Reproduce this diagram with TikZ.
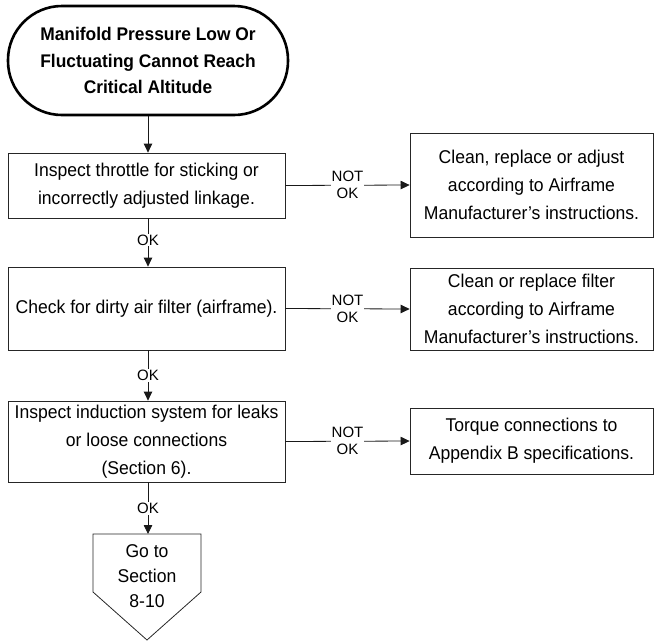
\documentclass[tikz,border=0pt]{standalone}
\usepackage{fontspec}
\setmainfont[FakeStretch=0.95]{Liberation Sans}
\newfontfamily\lblfont{Liberation Sans}
\usetikzlibrary{arrows.meta}
\begin{document}
\begin{tikzpicture}[x=1pt,y=-1pt,
  box/.style={draw=black!85,line width=0.8pt,align=center,inner sep=0pt,
    font=\fontsize{18.5}{28}\selectfont},
  term/.style={draw=black,line width=2.6pt,rounded corners=54pt,align=center,inner sep=0pt,
    font=\bfseries\fontsize{18.3}{26.5}\selectfont},
  conn/.style={draw=black!90,line width=0.8pt,-{Triangle[length=9pt,width=8.5pt]}},
  lbl/.style={fill=white,inner sep=1pt,align=center,font=\lblfont\fontsize{15}{17}\selectfont}
]
\useasboundingbox (0,0) rectangle (655,641);
\node[term,minimum width=280pt,minimum height=109pt] (t) at (148,60.5)
  {Manifold Pressure Low Or\\Fluctuating Cannot Reach\\Critical Altitude};
\node[box,minimum width=277pt,minimum height=65pt] (b1) at (146.5,185.5)
  {Inspect throttle for sticking or\\incorrectly adjusted linkage.};
\node[box,minimum width=243pt,minimum height=104pt] (r1) at (531.5,185)
  {Clean, replace or adjust\\according to Airframe\\Manufacturer’s instructions.};
\node[box,minimum width=277pt,minimum height=83pt] (b2) at (146.5,308.5)
  {Check for dirty air filter (airframe).};
\node[box,minimum width=243pt,minimum height=82pt] (r2) at (531.5,309)
  {Clean or replace filter\\according to Airframe\\Manufacturer’s instructions.};
\node[box,minimum width=277pt,minimum height=81pt] (b3) at (146.5,441.5)
  {Inspect induction system for leaks\\or loose connections\\(Section 6).};
\node[box,minimum width=243pt,minimum height=66pt] (r3) at (531.5,441)
  {Torque connections to\\Appendix B specifications.};
% off-page connector
\draw[draw=black!85,line width=0.8pt] (93,534) -- (201,534) -- (201,592) -- (147,640) -- (93,592) -- cycle;
\coordinate (ptop) at (147,534);
\node[align=center,inner sep=0pt,font=\fontsize{18.5}{25}\selectfont] (p) at (147,576) {Go to\\Section\\8-10};
% vertical connectors
\draw[conn] (t.south -| 148,0) -- (b1.north -| 148,0);
\draw[conn] (b1.south -| 148,0) -- node[lbl,pos=0.45] (ok1) {OK} (b2.north -| 148,0);
\draw[conn] (b2.south -| 148,0) -- node[lbl,pos=0.5] (ok2) {OK} (b3.north -| 148,0);
\draw[conn] (b3.south -| 148,0) -- node[lbl,pos=0.5] (ok3) {OK} (ptop -| 148,0);
% horizontal connectors
\draw[conn] (b1.east) -- node[lbl,pos=0.5] (n1) {NOT\\OK} (r1.west);
\draw[conn] (b2.east) -- node[lbl,pos=0.5] (n2) {NOT\\OK} (r2.west);
\draw[conn] (b3.east) -- node[lbl,pos=0.5] (n3) {NOT\\OK} (r3.west);
\end{tikzpicture}
\end{document}
